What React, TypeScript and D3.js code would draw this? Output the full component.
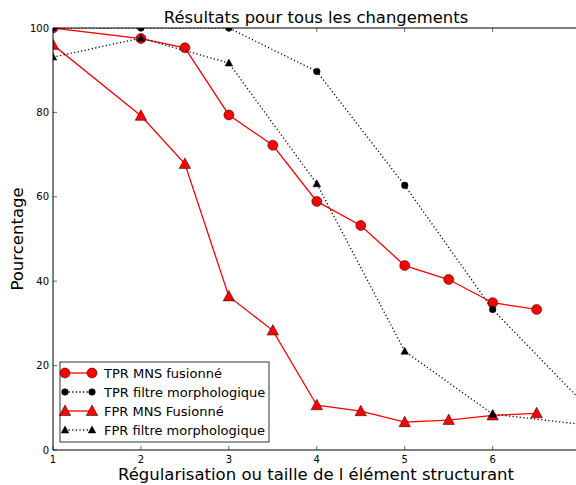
import React, { useEffect } from "react";
import * as d3 from "d3";

const xTPRfus = [1, 2, 2.5, 3, 3.5, 4, 4.5, 5, 5.5, 6, 6.5];
const yTPRfus = [100, 97.5, 95.3, 79.4, 72.2, 58.9, 53.2, 43.7, 40.4, 34.9, 33.3];
const xTPRmorph = [1, 2, 3, 4, 5, 6, 7];
const yTPRmorph = [100, 100, 100, 89.7, 62.7, 33.3, 11.8];
const xFPRfus = [1, 2, 2.5, 3, 3.5, 4, 4.5, 5, 5.5, 6, 6.5];
const yFPRfus = [96, 79.2, 67.8, 36.4, 28.3, 10.6, 9.2, 6.6, 7.1, 8.2, 8.7];
const xFPRmorph = [1, 2, 3, 4, 5, 6, 7];
const yFPRmorph = [93.1, 97.6, 91.7, 63.1, 23.4, 8.5, 6.1];

const xTicks = [1, 2, 3, 4, 5, 6];
const yTicks = [0, 20, 40, 60, 80, 100];
const legendLabels = [
  "TPR MNS fusionné",
  "TPR filtre morphologique",
  "FPR MNS Fusionné",
  "FPR filtre morphologique",
];
const titleText = "Résultats pour tous les changements";
const xLabel = "Régularisation ou taille de l élément structurant";
const yLabel = "Pourcentage";

const W = 576, H = 485;
const L = 53, R = 580.6, T = 28, B = 450;
const FONT = "DejaVu Sans, sans-serif";

export default function App() {
  useEffect(() => {
    document.body.style.margin = "0";
  }, []);
  const x = d3.scaleLinear().domain([1, 7]).range([L, R]);
  const y = d3.scaleLinear().domain([0, 100]).range([B, T]);
  const line = d3.line<[number, number]>().x(d => x(d[0])).y(d => y(d[1]));
  const zip = (a: number[], b: number[]) => a.map((v, i) => [v, b[i]] as [number, number]);

  const series = [
    { pts: zip(xTPRfus, yTPRfus), color: "red", dash: null, marker: "circle", r: 5, lw: 1.3 },
    { pts: zip(xTPRmorph, yTPRmorph), color: "black", dash: "1.2,2.4", marker: "circle", r: 3.3, lw: 1.3 },
    { pts: zip(xFPRfus, yFPRfus), color: "red", dash: null, marker: "tri", r: 6, lw: 1.3 },
    { pts: zip(xFPRmorph, yFPRmorph), color: "black", dash: "1.2,2.4", marker: "tri", r: 4, lw: 1.3 },
  ];
  const tri = (cx: number, cy: number, s: number) =>
    `M${cx},${cy - s} L${cx + s * 0.95},${cy + s * 0.75} L${cx - s * 0.95},${cy + s * 0.75} Z`;
  const drawMarker = (m: string, cx: number, cy: number, r: number, color: string, key: any) =>
    m === "circle" ? (
      <circle key={key} cx={cx} cy={cy} r={r} fill={color} stroke="black" strokeWidth={0.5} />
    ) : (
      <path key={key} d={tri(cx, cy, r)} fill={color} stroke="black" strokeWidth={0.5} />
    );

  const legX = 60, legY = 362, legW = 209, legH = 80;
  return (
    <svg width={W} height={H} style={{ display: "block", background: "white" }}>
      <defs>
        <clipPath id="plot">
          <rect x={L} y={T} width={R - L} height={B - T} />
        </clipPath>
      </defs>
      <rect width={W} height={H} fill="white" />
      <g clipPath="url(#plot)">
        {series.map((s, i) => (
          <g key={i}>
            <path d={line(s.pts) || ""} fill="none" stroke={s.color} strokeWidth={s.lw}
              strokeDasharray={s.dash || undefined} />
            {s.pts.map((p, j) => drawMarker(s.marker, x(p[0]), y(p[1]), s.r, s.color, j))}
          </g>
        ))}
      </g>
      {/* spines */}
      <line x1={L} x2={L} y1={T} y2={B} stroke="black" strokeWidth={1} />
      <line x1={L} x2={R} y1={B} y2={B} stroke="black" strokeWidth={1} />
      <line x1={L} x2={R} y1={T} y2={T} stroke="black" strokeWidth={1} />
      <line x1={R} x2={R} y1={T} y2={B} stroke="black" strokeWidth={1} />
      {/* x ticks */}
      {xTicks.map(t => (
        <g key={"x" + t}>
          <line x1={x(t)} x2={x(t)} y1={B} y2={B - 4} stroke="black" strokeWidth={0.6} />
          <line x1={x(t)} x2={x(t)} y1={T} y2={T + 4} stroke="black" strokeWidth={0.6} />
          <text x={x(t)} y={B + 13} fontSize={10} fontFamily={FONT} textAnchor="middle">{t}</text>
        </g>
      ))}
      {yTicks.map(t => (
        <g key={"y" + t}>
          <line x1={L} x2={L + 4} y1={y(t)} y2={y(t)} stroke="black" strokeWidth={0.6} />
          <line x1={R} x2={R - 4} y1={y(t)} y2={y(t)} stroke="black" strokeWidth={0.6} />
          <text x={L - 4} y={y(t) + 3.5} fontSize={10} fontFamily={FONT} textAnchor="end">{t}</text>
        </g>
      ))}
      <text x={316} y={23} fontSize={16.4} fontFamily={FONT} textAnchor="middle">{titleText}</text>
      <text x={316} y={480} fontSize={16.5} fontFamily={FONT} textAnchor="middle">{xLabel}</text>
      <text transform={`translate(23,${(T + B) / 2}) rotate(-90)`} fontSize={16.5} fontFamily={FONT} textAnchor="middle">{yLabel}</text>
      {/* legend */}
      <rect x={legX} y={legY} width={legW} height={legH} fill="white" stroke="black" strokeWidth={0.8} />
      {series.map((s, i) => {
        const ly = legY + 11 + i * 19;
        return (
          <g key={"l" + i}>
            <line x1={legX + 5} x2={legX + 32} y1={ly} y2={ly} stroke={s.color} strokeWidth={s.lw}
              strokeDasharray={s.dash || undefined} />
            {drawMarker(s.marker, legX + 5, ly, s.r, s.color, "a")}
            {drawMarker(s.marker, legX + 32, ly, s.r, s.color, "b")}
            <text x={legX + 44} y={ly + 4.5} fontSize={13} fontFamily={FONT}>{legendLabels[i]}</text>
          </g>
        );
      })}
    </svg>
  );
}
